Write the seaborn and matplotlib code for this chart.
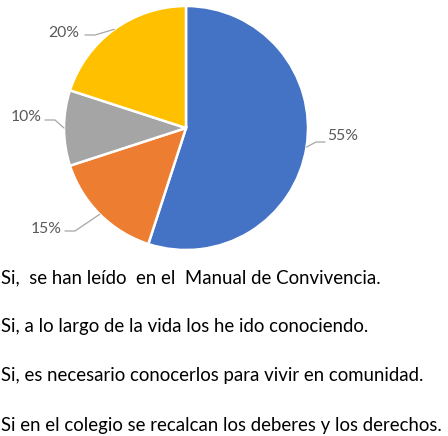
import matplotlib
matplotlib.use("Agg")
import matplotlib.pyplot as plt
import seaborn as sns
import numpy as np

categories = [
    "Si,  se han leído  en el  Manual de Convivencia.",
    "Si, a lo largo de la vida los he ido conociendo.",
    "Si, es necesario conocerlos para vivir en comunidad.",
    "Si en el colegio se recalcan los deberes y los derechos.",
]
shares = [55, 15, 10, 20]
pct_labels = ["55%", "15%", "10%", "20%"]
colors = ["#4472C4", "#ED7D31", "#A5A5A5", "#FFC000"]

sns.set_theme(style="white")
plt.rcParams["font.family"] = ["Lato", "DejaVu Sans"]

W, H = 448, 436
fig = plt.figure(figsize=(W / 100, H / 100), dpi=100)
ax = fig.add_axes([0, 0, 1, 1])

cx, cy, r = 186, H - 128, 122
wedges, _ = ax.pie(
    shares, colors=colors, startangle=90, counterclock=False,
    center=(cx, cy), radius=r, frame=True,
    wedgeprops=dict(edgecolor="white", linewidth=1.8),
)
ax.set_xlim(0, W)
ax.set_ylim(0, H)
ax.set_aspect("equal")
ax.axis("off")

# percent labels: text anchor and elbow of the leader line (pixels from top-left)
label_pos = [(327, 136), (62, 229), (42, 117), (79, 33)]
elbow = [(316, 142), (75, 231), (55, 120), (95, 35)]
ha = ["left", "right", "right", "right"]
for w, lab, (tx, ty), (ex, ey), a in zip(wedges, pct_labels, label_pos, elbow, ha):
    ang = np.deg2rad((w.theta1 + w.theta2) / 2)
    px, py = cx + r * np.cos(ang), cy + r * np.sin(ang)
    hx = ex + 9 if a == "left" else ex - 10
    ax.plot([px, ex, hx], [py, H - ey, H - ey], color="#A6A6A6", lw=0.9)
    ax.text(tx, H - ty, lab, ha=a, va="center", fontsize=11.3, color="#595959")

fs = 13.4
hl, hp = 0.7, 0.6
x0 = -(hl + hp) * fs * 100 / 72 + 1
leg = ax.legend(
    wedges, categories, loc="upper left",
    bbox_to_anchor=(x0 / W, 1 - 269 / H), bbox_transform=fig.transFigure,
    frameon=False, fontsize=fs, handlelength=hl, handleheight=0.7,
    handletextpad=hp, labelspacing=1.73, borderpad=0, borderaxespad=0,
)
for t in leg.get_texts():
    t.set_color("black")

fig.savefig("out.png", dpi=100)
